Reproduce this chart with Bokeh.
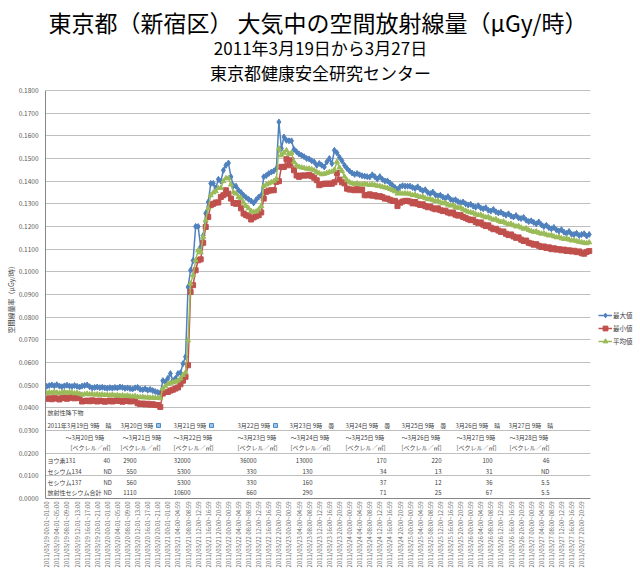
import math
from bokeh.plotting import figure
from bokeh.models import (ColumnDataSource, FixedTicker, NumeralTickFormatter,
                          Legend, LegendItem, Range1d, BoxAnnotation, Title)
from bokeh.core.properties import value
from bokeh.embed import file_html
from bokeh.resources import INLINE

FONT = "Noto Sans CJK JP"

# ---------------- data ----------------
days = ["2011/03/19", "2011/03/20", "2011/03/21", "2011/03/22", "2011/03/23",
        "2011/03/24", "2011/03/25", "2011/03/26", "2011/03/27"]

# hourly maximum (µGy/h), one row per day
max_uGy = [
    0.0495,0.0498,0.0501,0.0497,0.0502,0.0496,0.0493,0.0497,0.0500,0.0496,0.0494,0.0498,0.0495,0.0492,0.0496,0.0498,0.0501,0.0493,0.0488,0.0490,0.0492,0.0489,0.0491,0.0488,
    0.0486,0.0489,0.0487,0.0490,0.0488,0.0492,0.0490,0.0486,0.0488,0.0485,0.0483,0.0488,0.0490,0.0482,0.0480,0.0484,0.0478,0.0481,0.0476,0.0472,0.0468,0.0466,0.0520,0.0515,
    0.0530,0.0551,0.0520,0.0530,0.0551,0.0555,0.0595,0.0625,0.0933,0.1007,0.1050,0.1200,0.1200,0.1110,0.1160,0.1258,0.1308,0.1390,0.1390,0.1370,0.1408,0.1400,0.1448,0.1470,
    0.1480,0.1419,0.1380,0.1378,0.1360,0.1350,0.1338,0.1328,0.1320,0.1313,0.1304,0.1318,0.1330,0.1338,0.1419,0.1425,0.1434,0.1440,0.1445,0.1456,0.1661,0.1544,0.1595,0.1580,
    0.1578,0.1578,0.1540,0.1530,0.1520,0.1514,0.1508,0.1500,0.1498,0.1490,0.1485,0.1470,0.1478,0.1470,0.1463,0.1485,0.1500,0.1478,0.1536,0.1525,0.1505,0.1490,0.1470,0.1456,
    0.1445,0.1436,0.1430,0.1434,0.1428,0.1424,0.1422,0.1420,0.1418,0.1428,0.1420,0.1410,0.1420,0.1408,0.1401,0.1401,0.1392,0.1382,0.1372,0.1363,0.1375,0.1380,0.1378,0.1378,
    0.1378,0.1372,0.1368,0.1375,0.1365,0.1358,0.1362,0.1350,0.1345,0.1352,0.1340,0.1335,0.1338,0.1330,0.1325,0.1332,0.1320,0.1315,0.1318,0.1310,0.1305,0.1308,0.1300,0.1295,
    0.1298,0.1290,0.1285,0.1292,0.1282,0.1278,0.1283,0.1272,0.1268,0.1275,0.1265,0.1260,0.1263,0.1255,0.1250,0.1256,0.1246,0.1242,0.1248,0.1238,0.1235,0.1240,0.1228,0.1222,
    0.1225,0.1218,0.1212,0.1220,0.1208,0.1200,0.1205,0.1195,0.1190,0.1196,0.1185,0.1180,0.1186,0.1175,0.1170,0.1178,0.1166,0.1165,0.1170,0.1160,0.1165,0.1168,0.1158,0.1165,
]

# hourly minimum
min_uGy = [
    0.0440,0.0442,0.0438,0.0445,0.0441,0.0437,0.0443,0.0446,0.0440,0.0444,0.0447,0.0442,0.0445,0.0443,0.0428,0.0430,0.0432,0.0429,0.0433,0.0431,0.0428,0.0432,0.0430,0.0427,
    0.0429,0.0432,0.0428,0.0431,0.0433,0.0430,0.0427,0.0430,0.0432,0.0428,0.0431,0.0429,0.0420,0.0417,0.0419,0.0415,0.0418,0.0414,0.0416,0.0413,0.0412,0.0404,0.0463,0.0470,
    0.0470,0.0476,0.0480,0.0485,0.0490,0.0504,0.0520,0.0537,0.0588,0.0911,0.0941,0.1007,0.1051,0.1055,0.1128,0.1198,0.1242,0.1294,0.1300,0.1306,0.1306,0.1330,0.1338,0.1360,
    0.1345,0.1323,0.1304,0.1300,0.1304,0.1280,0.1257,0.1250,0.1245,0.1231,0.1240,0.1245,0.1250,0.1262,0.1323,0.1353,0.1358,0.1360,0.1360,0.1397,0.1400,0.1463,0.1463,0.1497,
    0.1470,0.1492,0.1448,0.1425,0.1419,0.1425,0.1425,0.1425,0.1428,0.1422,0.1415,0.1404,0.1382,0.1386,0.1389,0.1389,0.1389,0.1389,0.1395,0.1436,0.1407,0.1395,0.1390,0.1367,
    0.1363,0.1363,0.1360,0.1365,0.1360,0.1363,0.1338,0.1338,0.1342,0.1336,0.1338,0.1332,0.1334,0.1330,0.1323,0.1323,0.1318,0.1313,0.1313,0.1290,0.1305,0.1310,0.1313,0.1313,
    0.1310,0.1302,0.1308,0.1300,0.1295,0.1298,0.1290,0.1285,0.1288,0.1280,0.1276,0.1280,0.1272,0.1268,0.1270,0.1262,0.1258,0.1262,0.1252,0.1248,0.1250,0.1242,0.1238,0.1232,
    0.1228,0.1230,0.1220,0.1215,0.1218,0.1208,0.1202,0.1205,0.1195,0.1188,0.1190,0.1182,0.1176,0.1178,0.1168,0.1162,0.1165,0.1156,0.1150,0.1152,0.1142,0.1136,0.1138,0.1128,
    0.1125,0.1120,0.1122,0.1115,0.1110,0.1112,0.1105,0.1108,0.1100,0.1104,0.1098,0.1100,0.1095,0.1098,0.1092,0.1095,0.1090,0.1093,0.1087,0.1090,0.1082,0.1080,0.1088,0.1092,
]

# hourly mean
avg_uGy = [
    0.0465,0.0468,0.0466,0.0470,0.0467,0.0464,0.0468,0.0470,0.0466,0.0469,0.0467,0.0464,0.0466,0.0462,0.0458,0.0460,0.0462,0.0459,0.0461,0.0458,0.0460,0.0457,0.0459,0.0456,
    0.0457,0.0455,0.0458,0.0454,0.0456,0.0453,0.0455,0.0452,0.0454,0.0451,0.0450,0.0452,0.0448,0.0446,0.0448,0.0445,0.0446,0.0444,0.0445,0.0443,0.0444,0.0442,0.0485,0.0495,
    0.0505,0.0510,0.0512,0.0515,0.0520,0.0529,0.0545,0.0556,0.0698,0.0948,0.0985,0.1051,0.1095,0.1085,0.1154,0.1228,0.1280,0.1338,0.1350,0.1355,0.1370,0.1370,0.1400,0.1413,
    0.1413,0.1385,0.1350,0.1345,0.1330,0.1325,0.1305,0.1290,0.1280,0.1268,0.1264,0.1266,0.1275,0.1290,0.1378,0.1385,0.1390,0.1395,0.1400,0.1410,0.1544,0.1514,0.1525,0.1536,
    0.1520,0.1525,0.1485,0.1470,0.1463,0.1460,0.1458,0.1455,0.1455,0.1452,0.1448,0.1440,0.1435,0.1430,0.1432,0.1436,0.1440,0.1442,0.1450,0.1485,0.1460,0.1445,0.1420,0.1404,
    0.1395,0.1390,0.1388,0.1390,0.1386,0.1385,0.1388,0.1385,0.1383,0.1386,0.1382,0.1380,0.1378,0.1375,0.1372,0.1370,0.1365,0.1360,0.1355,0.1345,0.1348,0.1345,0.1346,0.1345,
    0.1343,0.1338,0.1340,0.1334,0.1330,0.1332,0.1325,0.1320,0.1322,0.1316,0.1312,0.1314,0.1306,0.1302,0.1304,0.1296,0.1292,0.1294,0.1286,0.1282,0.1284,0.1275,0.1270,0.1265,
    0.1262,0.1260,0.1254,0.1250,0.1252,0.1245,0.1240,0.1242,0.1235,0.1230,0.1232,0.1225,0.1220,0.1222,0.1214,0.1210,0.1212,0.1205,0.1200,0.1202,0.1195,0.1190,0.1192,0.1184,
    0.1180,0.1176,0.1178,0.1172,0.1168,0.1170,0.1164,0.1160,0.1162,0.1156,0.1152,0.1154,0.1148,0.1145,0.1147,0.1142,0.1138,0.1140,0.1135,0.1132,0.1130,0.1128,0.1126,0.1130,
]

series_names = ["最大値", "最小値", "平均値"]

title_main = "東京都（新宿区）  大気中の空間放射線量（μGy/時）"
title_period = "2011年3月19日から3月27日"
title_org = "東京都健康安全研究センター"
y_axis_title = "空間線量率（μGy/時）"

# fallout table (text box inside the chart)
fallout_title = "放射性降下物"
period_from = ["2011年3月19日 9時　晴", "3月20日 9時", "3月21日 9時", "3月22日 9時",
               "3月23日 9時　曇", "3月24日 9時　曇", "3月25日 9時　曇",
               "3月26日 9時　晴", "3月27日 9時　晴"]
rain_mark = [False, True, True, True, False, False, False, False, False]
period_to = ["～3月20日 9時", "～3月21日 9時", "～3月22日 9時", "～3月23日 9時",
             "～3月24日 9時", "～3月25日 9時", "～3月26日 9時", "～3月27日 9時",
             "～3月28日 9時"]
unit_text = "[ベクレル／㎡]"
nuclides = ["ヨウ素131", "セシウム134", "セシウム137", "放射性セシウム合計"]
iodine131 = ["40", "2900", "32000", "36000", "13000", "170", "220", "100", "46"]
cesium134 = ["ND", "550", "5300", "330", "130", "34", "13", "31", "ND"]
cesium137 = ["ND", "560", "5300", "330", "160", "37", "12", "36", "5.5"]
cesium_total = ["ND", "1110", "10600", "660", "290", "71", "25", "67", "5.5"]

y_ticks = [round(0.01 * k, 2) for k in range(19)]

n_hours = len(max_uGy)
hours = list(range(n_hours))


def slot_label(i):
    d = days[i // 24]
    h = i % 24
    if i < 50:
        return f"{d} {h:02d}:01~{h + 1:02d}:00"
    return f"{d} {h:02d}:00~{h:02d}:59"


tick_hours = list(range(0, n_hours, 4))
tick_labels = {t: slot_label(t) for t in tick_hours}

# ---------------- layout ----------------
W, H = 640, 576
L, B = 45, 78                    # left / bottom borders
PLOT_L, PLOT_R = 45, 590         # chart area in pixels
PLOT_T, PLOT_B = 90, 498
XA, XB = -0.5, n_hours - 0.5     # category span
YA, YB = 0.0, 0.18
xs = (XB - XA) / (PLOT_R - PLOT_L)
ys = (YB - YA) / (PLOT_B - PLOT_T)
X0 = XA - (PLOT_L - L) * xs
X1 = XA + (W - PLOT_L) * xs
Y0 = YA
Y1 = YA + (PLOT_B - 0) * ys


def px_x(px):
    return XA + (px - PLOT_L) * xs


def px_y(py):
    return YA + (PLOT_B - py) * ys


BLUE, RED, GREEN = "#4F81BD", "#C0504D", "#9BBB59"
GRID = "#BFBFBF"
TXT = "#404040"

p = figure(width=W, height=H, output_backend="svg", toolbar_location=None,
           title=None, x_range=Range1d(X0, X1), y_range=Range1d(Y0, Y1),
           min_border_left=L, min_border_right=0, min_border_top=0,
           min_border_bottom=B, background_fill_color="white",
           border_fill_color="white", outline_line_color=None)

# axes
p.yaxis.ticker = FixedTicker(ticks=y_ticks)
p.yaxis.bounds = (YA, YB)
p.yaxis.formatter = NumeralTickFormatter(format="0.0000")
p.yaxis.major_label_text_font = FONT
p.yaxis.major_label_text_font_size = "6.5px"
p.yaxis.major_label_text_color = "#595959"
p.yaxis.major_tick_out = 0
p.yaxis.major_tick_in = 0
p.yaxis.minor_tick_out = 0
p.yaxis.minor_tick_in = 0
p.yaxis.major_label_standoff = 7
p.yaxis.axis_line_color = "#868686"

# y-axis title as a left-side title, starting 165 px above the chart bottom
p.add_layout(Title(text=y_axis_title, align="left", offset=165, standoff=0,
                   text_font=FONT, text_font_size="7px",
                   text_font_style="normal", text_color=TXT), "left")

p.xaxis.ticker = FixedTicker(ticks=tick_hours)
p.xaxis.bounds = (XA, XB)
p.xaxis.major_label_overrides = tick_labels
p.xaxis.major_label_orientation = math.pi / 2
p.xaxis.major_label_text_font = FONT
p.xaxis.major_label_text_font_size = "6px"
p.xaxis.major_label_text_color = "#6B6B6B"
p.xaxis.major_tick_out = 0
p.xaxis.major_tick_in = 0
p.xaxis.minor_tick_out = 0
p.xaxis.minor_tick_in = 0
p.xaxis.major_label_standoff = 3
p.xaxis.axis_line_color = "#868686"

p.xgrid.grid_line_color = None
p.ygrid.grid_line_color = GRID
p.ygrid.grid_line_width = 1
try:
    p.ygrid.cross_bounds = (XA, XB)
except Exception:
    p.add_layout(BoxAnnotation(left=XB, right=X1, bottom=Y0, top=Y1,
                               fill_color="white", fill_alpha=1,
                               line_color=None, level="underlay"))

# series
src = ColumnDataSource(dict(hour=hours, mx=max_uGy, mn=min_uGy, av=avg_uGy))
l1 = p.line("hour", "mx", source=src, line_color=BLUE, line_width=1.5)
s1 = p.scatter("hour", "mx", source=src, marker="diamond", size=6,
               fill_color=BLUE, line_color=BLUE)
l2 = p.line("hour", "mn", source=src, line_color=RED, line_width=1.5)
s2 = p.scatter("hour", "mn", source=src, marker="square", size=5,
               fill_color=RED, line_color=RED)
l3 = p.line("hour", "av", source=src, line_color=GREEN, line_width=1.5)
s3 = p.scatter("hour", "av", source=src, marker="triangle", size=5,
               fill_color=GREEN, line_color=GREEN)

legend = Legend(items=[LegendItem(label=series_names[0], renderers=[l1, s1]),
                       LegendItem(label=series_names[1], renderers=[l2, s2]),
                       LegendItem(label=series_names[2], renderers=[l3, s3])],
                location=(598 - L, PLOT_B - 347), orientation="vertical",
                background_fill_alpha=0, border_line_alpha=0,
                label_text_font=FONT, label_text_font_size="6.5px",
                label_text_color=TXT, glyph_width=14, glyph_height=12,
                label_height=12, label_standoff=1, spacing=1, padding=0, margin=0)
p.add_layout(legend)

# titles
p.text(x=[px_x(320)], y=[px_y(21)], text=[title_main], text_font=value(FONT),
       text_font_size="23px", text_color="black", text_align="center",
       text_baseline="middle")
p.text(x=[px_x(320)] * 2, y=[px_y(47), px_y(72)], text=[title_period, title_org],
       text_font=value(FONT), text_font_size="17px", text_color="black",
       text_align="center", text_baseline="middle")

# fallout table text box
TFS = "6px"
col_from_px = [47, 120, 173, 237, 289, 345, 401, 455, 508]
col_to_px = [65, 122, 173, 237, 290, 345, 401, 456, 509]
col_unit_px = [70, 120, 173, 237, 290, 345, 401, 456, 509]
val_right_px = [None, 136, 190, 256, 312, 386, 441, 492, 549]
first_val_px = 103
row_py = dict(title=412, frm=425, to=436.5, unit=447, vals=[460, 470.5, 481.5, 492])

left_x, left_y, left_t = [], [], []
right_x, right_y, right_t = [], [], []

left_x.append(px_x(47)); left_y.append(px_y(row_py["title"])); left_t.append(fallout_title)
for k in range(len(period_from)):
    left_x.append(px_x(col_from_px[k])); left_y.append(px_y(row_py["frm"])); left_t.append(period_from[k])
    left_x.append(px_x(col_to_px[k])); left_y.append(px_y(row_py["to"])); left_t.append(period_to[k])
    left_x.append(px_x(col_unit_px[k])); left_y.append(px_y(row_py["unit"])); left_t.append(unit_text)

rows = [iodine131, cesium134, cesium137, cesium_total]
for r, (name, vals) in enumerate(zip(nuclides, rows)):
    py = row_py["vals"][r]
    left_x.append(px_x(47)); left_y.append(px_y(py)); left_t.append(name)
    left_x.append(px_x(first_val_px)); left_y.append(px_y(py)); left_t.append(vals[0])
    for k in range(1, len(vals)):
        right_x.append(px_x(val_right_px[k])); right_y.append(px_y(py)); right_t.append(vals[k])

p.text(x=left_x, y=left_y, text=left_t, text_font=value(FONT), text_font_size=TFS,
       text_color=TXT, text_align="left", text_baseline="middle")
p.text(x=right_x, y=right_y, text=right_t, text_font=value(FONT), text_font_size=TFS,
       text_color=TXT, text_align="right", text_baseline="middle")

icon_x = [px_x(col_from_px[k] + 38) for k in range(len(rain_mark)) if rain_mark[k]]
icon_y = [px_y(row_py["frm"])] * len(icon_x)
p.scatter(icon_x, icon_y, marker="square", size=4, fill_color="#9DC3E6",
          line_color="#2E75B6", line_width=0.8)

open("out.html", "w").write(file_html(p, INLINE))
